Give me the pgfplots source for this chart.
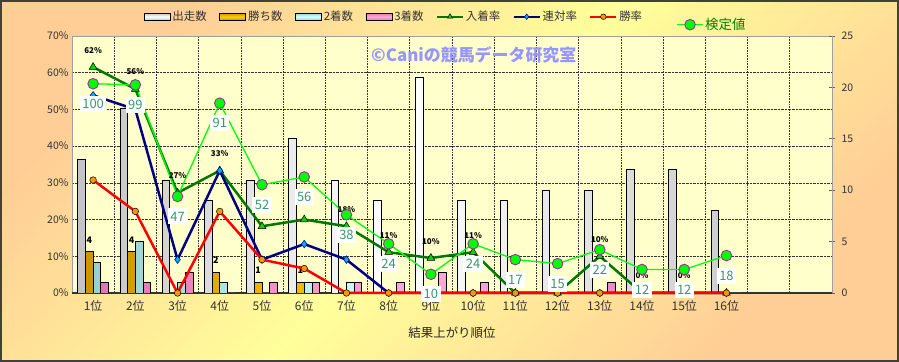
\documentclass[border=0pt]{standalone}
\usepackage{fontspec}
\setmainfont{Noto Sans CJK JP}
\usepackage{pgfplots}
\pgfplotsset{compat=1.18}
\usepackage{pgfplotstable}

\definecolor{peach}{RGB}{255,205,150}
\definecolor{paleyel}{RGB}{255,255,155}
\definecolor{plotbg}{RGB}{255,255,204}
\definecolor{goldm}{RGB}{255,205,0}
\definecolor{golddk}{RGB}{205,150,0}
\definecolor{cyanlt}{RGB}{215,255,255}
\definecolor{cyandk}{RGB}{150,210,210}
\definecolor{pinklt}{RGB}{255,170,215}
\definecolor{pinkdk}{RGB}{225,120,180}
\definecolor{greydk}{RGB}{195,195,195}
\definecolor{dkgreen}{RGB}{0,120,0}
\definecolor{navyb}{RGB}{0,0,128}
\definecolor{limeg}{RGB}{0,255,0}
\definecolor{trig}{RGB}{0,215,0}
\definecolor{purp}{RGB}{153,51,153}
\definecolor{tealt}{RGB}{60,150,110}
\definecolor{wmark}{RGB}{150,150,255}
\definecolor{orangem}{RGB}{255,150,0}
\definecolor{legtext}{RGB}{0,128,0}

\newcommand\fs[1]{\fontsize{#1}{#1}\selectfont}

\pgfplotsset{
  /pgf/number format/assume math mode=true,
  ruchaku/.style={dkgreen, line width=2.5bp, mark=triangle*, mark size=4.5bp,
     mark options={fill=trig, draw=black, line width=0.5bp, solid}},
  rentai/.style={navyb, line width=2.5bp, mark=diamond*, mark size=3.8bp,
     mark options={fill=cyan, draw=navyb, line width=0.5bp, solid}},
  shouritsu/.style={red, line width=2.5bp, mark=*, mark size=3.3bp,
     mark options={fill=orangem, draw=black, line width=0.5bp, solid}},
  kentei/.style={limeg, line width=1.3bp, mark=*, mark size=5.3bp,
     mark options={fill=limeg, draw=purp, line width=0.9bp, solid}},
  linelegend/.style={legend image code/.code={%
     \draw[##1,sharp plot,mark repeat=2,mark phase=2] plot coordinates {(0bp,0bp) (13bp,0bp) (26bp,0bp)};}},
}

\pgfplotstableread{
x run win sec thi wlab
1 13 4 3 1 4
2 18 4 5 1 4
3 11 0 1 2 {}
4 9 2 1 0 2
5 11 1 0 1 1
6 15 1 1 1 1
7 11 0 1 1 {}
8 9 0 0 1 {}
9 21 0 0 2 {}
10 9 0 0 1 {}
11 9 0 0 0 {}
12 10 0 0 0 {}
13 10 0 0 1 {}
14 12 0 0 0 {}
15 12 0 0 0 {}
16 8 0 0 0 {}
}\bardata

\pgfplotstableread{
x place rentai winr plab
1 61.54 53.85 30.77 62\%
2 55.56 50.00 22.22 56\%
3 27.27 9.09 0 27\%
4 33.33 33.33 22.22 33\%
5 18.18 9.09 9.09 {}
6 20.00 13.33 6.67 {}
7 18.18 9.09 0 18\%
8 11.11 0 0 11\%
9 9.52 0 0 10\%
10 11.11 0 0 11\%
11 0 0 0 {}
12 0 0 0 {}
13 10.00 0 0 10\%
14 0 0 0 0\%
15 0 0 0 0\%
16 0 0 0 {}
}\pctdata

\pgfplotstableread{
x k lab
1 57.0 100
2 56.7 99
3 26.3 47
4 51.7 91
5 29.5 52
6 31.6 56
7 21.3 38
8 13.4 24
9 5.1 10
10 13.4 24
11 9.1 17
12 8.0 15
13 11.8 22
14 6.4 12
15 6.4 12
16 10.2 18
}\kenteidata

\begin{document}
\begin{tikzpicture}
% background
\shade[top color=peach, bottom color=peach, middle color=paleyel, shading angle=45]
  (0,0) rectangle (899bp,362bp);

% Axis A: background, grid, left ticks, category labels
\begin{axis}[
  at={(72bp,69bp)}, anchor=south west,
  width=760bp, height=257bp, scale only axis,
  xmin=0.5, xmax=18.5, ymin=0, ymax=70,
  axis background/.style={fill=plotbg},
  axis line style={gray!75},
  xtick={1,...,16},
  xticklabels={1位,2位,3位,4位,5位,6位,7位,8位,9位,10位,11位,12位,13位,14位,15位,16位},
  minor xtick={1.5,2.5,...,17.5},
  xminorgrids, ymajorgrids,
  ytick={0,10,...,70},
  yticklabel={\pgfmathprintnumber{\tick}\%},
  grid style={black!80, densely dotted, line width=0.6bp},
  minor grid style={black!80, densely dotted, line width=0.6bp},
  major tick length=0pt, minor tick length=0pt,
  tick label style={text=black!80},
  xticklabel style={font=\fs{12}, anchor=center, yshift=-13bp},
  yticklabel style={font=\fs{10.5}},
  xlabel={結果上がり順位},
  xlabel style={font=\fs{12.5}, text=black!85, at={(axis description cs:0.5,-0.155)}, anchor=center},
]
\addplot[draw=none, forget plot] coordinates {(1,0)};
\end{axis}

% Axis B: bars on right axis
\begin{axis}[
  at={(72bp,69bp)}, anchor=south west,
  width=760bp, height=257bp, scale only axis,
  xmin=0.5, xmax=18.5, ymin=0, ymax=25,
  axis y line*=right, axis x line*=bottom,
  x axis line style={black!80, line width=1.4bp},
  y axis line style={gray!75},
  xtick=\empty, ytick={0,5,...,25},
  ytick style={draw=gray!80!black, line width=0.6bp},
  major tick length=6bp, tick align=center,
  yticklabel style={font=\fs{10.5}, text=black!80, xshift=3bp},
  ybar=0pt, bar width=7.7bp,
  legend style={at={(0.094,1.075)}, anchor=west, draw=none, fill=none,
    legend columns=-1, font=\fs{11.5}\color{black!80}, inner sep=0pt,
    nodes={inner sep=1.5bp},
    /tikz/every even column/.append style={column sep=11bp},
    /tikz/every odd column/.append style={column sep=0.5bp}},
  legend cell align=left,
]
\addplot[draw=black, line width=0.8bp, left color=greydk, right color=greydk!80, middle color=white,
  legend image code/.code={\draw[black, line width=0.8bp, top color=greydk, bottom color=greydk, middle color=white] (0bp,-3.5bp) rectangle (26bp,3.5bp);}]
  table[x=x, y=run] \bardata;
\addplot[draw=black, line width=0.8bp, left color=golddk, right color=golddk, middle color=goldm,
  point meta=explicit symbolic, nodes near coords,
  nodes near coords style={anchor=center, yshift=12bp, font=\fs{9}\bfseries, text=black, inner sep=0pt},
  legend image code/.code={\draw[black, line width=0.8bp, top color=golddk, bottom color=golddk, middle color=goldm] (0bp,-3.5bp) rectangle (26bp,3.5bp);}]
  table[x=x, y=win, meta=wlab] \bardata;
\addplot[draw=black, line width=0.8bp, left color=cyandk, right color=cyandk, middle color=cyanlt,
  legend image code/.code={\draw[black, line width=0.8bp, top color=cyandk, bottom color=cyandk, middle color=cyanlt] (0bp,-3.5bp) rectangle (26bp,3.5bp);}]
  table[x=x, y=sec] \bardata;
\addplot[draw=black, line width=0.8bp, left color=pinkdk, right color=pinkdk, middle color=pinklt,
  legend image code/.code={\draw[black, line width=0.8bp, top color=pinkdk, bottom color=pinkdk, middle color=pinklt] (0bp,-3.5bp) rectangle (26bp,3.5bp);}]
  table[x=x, y=thi] \bardata;
\addlegendimage{ruchaku, line width=1.8bp, mark size=3bp, linelegend}
\addlegendimage{rentai, line width=1.8bp, mark size=2.8bp, linelegend}
\addlegendimage{shouritsu, line width=1.8bp, mark size=2.8bp, linelegend}
\legend{出走数,勝ち数,2着数,3着数,入着率,連対率,勝率}
\end{axis}

% Axis C: rate lines on left axis
\begin{axis}[
  at={(72bp,69bp)}, anchor=south west,
  width=760bp, height=257bp, scale only axis,
  xmin=0.5, xmax=18.5, ymin=0, ymax=70,
  hide axis, clip=false,
  legend style={at={(0.795,1.044)}, anchor=west, draw=none, fill=none,
    font=\fs{13.5}\color{legtext}, inner sep=0pt, nodes={inner sep=1.5bp}},
]
\addplot[ruchaku, forget plot, point meta=explicit symbolic, nodes near coords,
  nodes near coords style={anchor=center, yshift=17bp, font=\fs{8}\bfseries, text=black, inner sep=0pt}]
  table[x=x, y=place, meta=plab] \pctdata;
\addplot[rentai, forget plot] table[x=x, y=rentai] \pctdata;
\addplot[shouritsu, forget plot] table[x=x, y=winr] \pctdata;
\addplot[kentei, linelegend, point meta=explicit symbolic, nodes near coords,
  nodes near coords style={anchor=center, yshift=-20bp, fill=white, text=tealt,
    font=\fs{13}, inner xsep=2.5bp, inner ysep=0pt, minimum height=16bp}]
  table[x=x, y=k, meta=lab] \kenteidata;
\addlegendentry{検定値}
\end{axis}

% watermark
\node[anchor=west, text=wmark, font=\fs{17}\bfseries, inner sep=0pt] at (371bp,307bp) {©Caniの競馬データ研究室};

% outer border
\draw[black!75, line width=2bp] (1bp,1bp) rectangle (898bp,361bp);
\pgfresetboundingbox
\useasboundingbox (0,0) rectangle (899bp,362bp);
\end{tikzpicture}
\end{document}
